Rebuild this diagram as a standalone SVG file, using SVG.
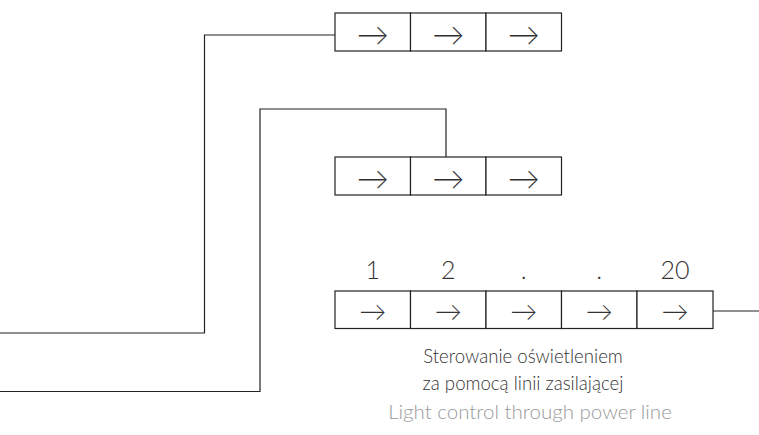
<svg xmlns="http://www.w3.org/2000/svg" width="759" height="435" viewBox="0 0 759 435">
<style>
.cell{fill:#fff;stroke:#222;stroke-width:1.2}
.wire{fill:none;stroke:#222;stroke-width:1.2}
.arr{font-family:Lato,"Noto Sans",sans-serif;font-weight:300;font-size:32px;fill:#333;text-anchor:middle}
.arr2{font-family:Lato,"Noto Sans",sans-serif;font-weight:300;font-size:27px;fill:#333;text-anchor:middle}
.num{font-family:Lato,"Noto Sans",sans-serif;font-weight:300;font-size:25px;fill:#333;text-anchor:middle}
.cap{font-family:Lato,"Noto Sans",sans-serif;font-weight:300;font-size:18.6px;fill:#333;text-anchor:middle}
.cap2{font-family:Lato,"Noto Sans",sans-serif;font-weight:300;font-size:20.5px;fill:#9a9a9a;text-anchor:middle}
</style>
<g id="connectors">
<path class="wire" d="M0 333H204.5V35H335"/>
<path class="wire" d="M0 391.5H260V109H446V157"/>
<path class="wire" d="M713 311H759"/>
</g>
<g id="row1">
<rect class="cell" x="335" y="13" width="75.5" height="38"/>
<rect class="cell" x="410.5" y="13" width="75.5" height="38"/>
<rect class="cell" x="486" y="13" width="75.5" height="38"/>
<text class="arr" x="372.7" y="46">→</text>
<text class="arr" x="448.2" y="46">→</text>
<text class="arr" x="523.7" y="46">→</text>
</g>
<g id="row2">
<rect class="cell" x="335" y="157" width="75.5" height="38"/>
<rect class="cell" x="410.5" y="157" width="75.5" height="38"/>
<rect class="cell" x="486" y="157" width="75.5" height="38"/>
<text class="arr" x="372.7" y="190">→</text>
<text class="arr" x="448.2" y="190">→</text>
<text class="arr" x="523.7" y="190">→</text>
</g>
<g id="row3">
<rect class="cell" x="335" y="291" width="75.5" height="37.5"/>
<rect class="cell" x="410.5" y="291" width="75.5" height="37.5"/>
<rect class="cell" x="486" y="291" width="75.5" height="37.5"/>
<rect class="cell" x="561.5" y="291" width="75.5" height="37.5"/>
<rect class="cell" x="637" y="291" width="76" height="37.5"/>
<text class="arr2" x="372.7" y="321">→</text>
<text class="arr2" x="448.2" y="321">→</text>
<text class="arr2" x="523.7" y="321">→</text>
<text class="arr2" x="599.2" y="321">→</text>
<text class="arr2" x="675" y="321">→</text>
</g>
<g id="labels">
<text class="num" x="372.7" y="279">1</text>
<text class="num" x="448.2" y="279">2</text>
<text class="num" x="523.7" y="279">.</text>
<text class="num" x="599.2" y="279">.</text>
<text class="num" x="675" y="279">20</text>
<text class="cap" x="523" y="363">Sterowanie oświetleniem</text>
<text class="cap" x="523" y="390">za pomocą linii zasilającej</text>
<text class="cap2" x="530" y="419">Light control through power line</text>
</g>
</svg>
